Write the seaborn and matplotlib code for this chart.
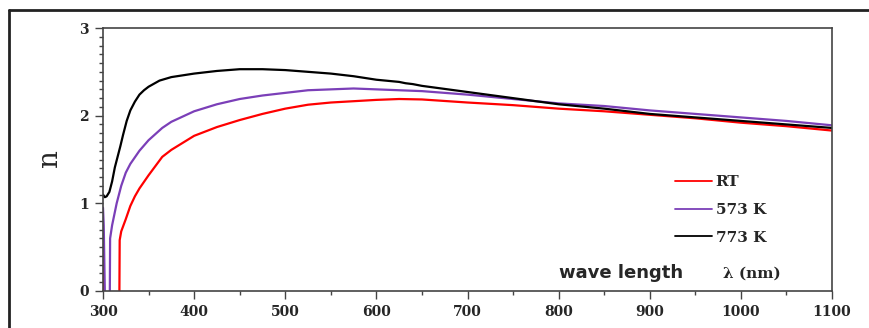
import numpy as np
import pandas as pd
import seaborn as sns
import matplotlib.pyplot as plt
from matplotlib.lines import Line2D
from matplotlib.ticker import MultipleLocator

# segments: (wavelength, n) per curve, gaps where the curve goes below 0
rt_wl_0 = [300, 301]
rt_n_0 = [0.5, 0.0]
rt_wl = [318, 318.3, 320, 325, 330, 335, 340, 350, 360, 365, 375, 400, 425, 450, 475, 500,
         525, 550, 600, 625, 650, 700, 750, 800, 850, 900, 950, 1000, 1050, 1100]
rt_n = [0.0, 0.58, 0.68, 0.82, 0.97, 1.08, 1.17, 1.32, 1.46, 1.53, 1.61, 1.77, 1.87, 1.95, 2.02, 2.08,
        2.125, 2.15, 2.18, 2.19, 2.185, 2.15, 2.12, 2.08, 2.05, 2.01, 1.97, 1.92, 1.88, 1.83]

k573_wl_0 = [300, 300.8, 302]
k573_n_0 = [0.95, 0.75, 0.0]
k573_wl = [307.5, 307.8, 310, 315, 320, 325, 330, 340, 350, 365, 375, 400, 425, 450, 475, 500,
           525, 550, 575, 600, 650, 700, 750, 800, 850, 900, 950, 1000, 1050, 1100]
k573_n = [0.0, 0.6, 0.75, 1.0, 1.2, 1.35, 1.45, 1.60, 1.72, 1.86, 1.93, 2.05, 2.13, 2.19, 2.23, 2.26,
          2.29, 2.30, 2.31, 2.30, 2.28, 2.24, 2.19, 2.14, 2.11, 2.06, 2.02, 1.98, 1.94, 1.89]

k773_wl = [300, 302, 304, 307, 310, 313, 316, 319, 322, 326, 330, 335, 340, 345, 350, 362, 375,
           400, 425, 450, 475, 500, 525, 550, 575, 600, 625, 632, 640, 650, 700, 750, 800, 850,
           900, 950, 1000, 1050, 1100]
k773_n = [1.10, 1.07, 1.08, 1.13, 1.25, 1.41, 1.53, 1.65, 1.78, 1.94, 2.06, 2.16, 2.24, 2.29, 2.33,
          2.40, 2.44, 2.48, 2.51, 2.53, 2.53, 2.52, 2.50, 2.48, 2.45, 2.41, 2.385, 2.37, 2.36, 2.34,
          2.27, 2.20, 2.13, 2.08, 2.02, 1.98, 1.94, 1.90, 1.86]

labels = ["RT", "573 K", "773 K"]
colors = ["#ff0000", "#7b3fb8", "#000000"]


def frame(wl, n, label, seg):
    return pd.DataFrame({"wl": wl, "n": n, "sample": label, "seg": seg})


df = pd.concat([
    frame(rt_wl_0, rt_n_0, "RT", 0),
    frame(rt_wl, rt_n, "RT", 1),
    frame(k573_wl_0, k573_n_0, "573 K", 2),
    frame(k573_wl, k573_n, "573 K", 3),
    frame(k773_wl, k773_n, "773 K", 4),
], ignore_index=True)

sns.set_style("ticks")
fig = plt.figure(figsize=(8.69, 3.28), dpi=100)
ax = fig.add_axes([103 / 869, 37 / 328, 729 / 869, 263 / 328])

sns.lineplot(data=df, x="wl", y="n", hue="sample", hue_order=labels, palette=colors,
             units="seg", estimator=None, sort=False, linewidth=1.6, ax=ax, legend=False)

ax.set_xlim(300, 1100)
ax.set_ylim(0, 3)
ax.xaxis.set_major_locator(MultipleLocator(100))
ax.xaxis.set_minor_locator(MultipleLocator(50))
ax.yaxis.set_major_locator(MultipleLocator(1))
ax.yaxis.set_minor_locator(MultipleLocator(0.1))
ax.tick_params(which="major", direction="out", length=6, width=1, color="#444444", pad=4)
ax.tick_params(which="minor", direction="out", length=3, width=1, color="#444444")
for sp in ax.spines.values():
    sp.set_color("#444444")
    sp.set_linewidth(1.2)

for lab in ax.get_xticklabels() + ax.get_yticklabels():
    lab.set_family("DejaVu Serif")
    lab.set_fontweight("bold")
    lab.set_fontsize(10)

ax.set_xlabel("")
ax.set_ylabel("n", family="DejaVu Serif", fontsize=20, labelpad=12)

handles = [Line2D([], [], color=c, linewidth=1.3) for c in colors]
leg = ax.legend(handles, labels, loc="upper left", bbox_to_anchor=(0.785, 0.44),
                frameon=False, handlelength=2.4, handletextpad=0.25, labelspacing=0.9,
                borderpad=0, borderaxespad=0,
                prop={"family": "DejaVu Serif", "weight": "bold", "size": 11})

ax.text(800, 0.2, "wave length", family="DejaVu Sans", fontweight="bold", fontsize=13,
        ha="left", va="center")
ax.text(980, 0.2, "\u03bb (nm)", family="DejaVu Serif", fontweight="bold", fontsize=11,
        ha="left", va="center")

# outer frame around the figure
fig.add_artist(Line2D([9 / 869, 9 / 869], [0, 1 - 10 / 328], transform=fig.transFigure,
                      color="#222222", linewidth=2))
fig.add_artist(Line2D([9 / 869, 1], [1 - 10 / 328, 1 - 10 / 328], transform=fig.transFigure,
                      color="#222222", linewidth=2))

fig.savefig("out.png", dpi=100)
